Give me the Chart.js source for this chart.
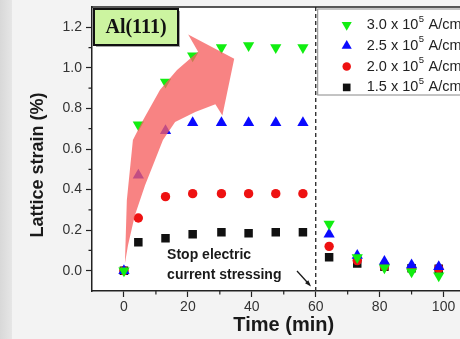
<!DOCTYPE html>
<html><head><meta charset="utf-8">
<script src="https://cdn.jsdelivr.net/npm/chart.js@4.4.0/dist/chart.umd.min.js"></script>
<style>
html,body{margin:0;padding:0;width:460px;height:339px;overflow:hidden;background:#f3f3f3;}
#strip{position:absolute;left:0;top:0;width:12px;height:339px;background:linear-gradient(90deg,#d8d8d8,#e6e6e6);}
canvas{position:absolute;left:0;top:0;}
</style></head><body>
<div id="strip"></div>
<canvas id="c" width="482" height="339"></canvas>
<script>
// ---- data ----
const times      = [0, 4.5, 13, 21.5, 30.5, 39, 47.5, 56, 64.2, 73, 81.5, 90, 98.5];
const strain30   = [0, 0.72, 0.93, 1.06, 1.10, 1.11, 1.10, 1.10, 0.23, 0.065, 0.015, -0.005, -0.025];
const strain25   = [0, 0.47, 0.69, 0.73, 0.73, 0.73, 0.73, 0.73, 0.18, 0.075, 0.045, 0.028, 0.02];
const strain20   = [0, 0.26, 0.365, 0.38, 0.38, 0.38, 0.38, 0.38, 0.12, 0.05, 0.02, 0.01, 0.01];
const strain15   = [0, 0.14, 0.16, 0.18, 0.19, 0.185, 0.19, 0.19, 0.066, 0.035, 0.02, 0.012, 0.01];
const densities  = ['3.0', '2.5', '2.0', '1.5'];
const xTickLabels = [0, 20, 40, 60, 80, 100];
const yTickLabels = [0.0, 0.2, 0.4, 0.6, 0.8, 1.0, 1.2];
const stopTime = 60;
const sampleLabel = 'Al(111)';
const noteLines = ['Stop electric', 'current stressing'];
const xTitle = 'Time (min)';
const yTitle = 'Lattice strain (%)';
// decorative curved arrow outline, in data units (time, strain)
const arrowOutline = [[0.3,0.035],[0.9,0.347],[2.8,0.644],[6.0,0.743],[11.3,0.892],[16.6,0.99],[23.2,1.08],
  [20.1,1.164],[34.5,1.045],[30.8,0.765],[28.6,0.82],
  [22.3,0.783],[16.0,0.733],[12.2,0.644],[9.7,0.545],[6.6,0.421],[3.4,0.272],[1.25,0.124]];

const mk = (arr)=> times.map((t,i)=>({x:t, y:arr[i]}));
const styles = [
  {color:'#11ee11', pointStyle:'triangle', rotation:180, radius:6.5},
  {color:'#0a0aff', pointStyle:'triangle', rotation:0, radius:6.5},
  {color:'#ee1111', pointStyle:'circle', rotation:0, radius:4.7},
  {color:'#111111', pointStyle:'rect', rotation:0, radius:6}
];
const seriesData = [strain30, strain25, strain20, strain15];
const datasets = seriesData.map((arr,i)=>({
  label: densities[i] + ' x 10\u2075 A/cm\u00B2',
  data: mk(arr),
  showLine:false,
  pointStyle: styles[i].pointStyle,
  rotation: styles[i].rotation,
  pointRadius: styles[i].radius,
  pointHoverRadius: styles[i].radius,
  backgroundColor: styles[i].color,
  borderColor: styles[i].color,
  borderWidth: 0
}));

const SANS = '"Liberation Sans", Arial, sans-serif';
const SERIF = '"Liberation Serif", "Times New Roman", serif';

const decor = {
  id:'decor',
  beforeDraw(chart){
    const {ctx, chartArea:a} = chart;
    ctx.save();
    ctx.fillStyle = '#ffffff';
    ctx.fillRect(a.left, a.top, a.right-a.left, a.bottom-a.top);
    ctx.restore();
  },
  afterDatasetsDraw(chart){
    const {ctx, chartArea:a, scales:{x,y}} = chart;
    ctx.save();
    // curved arrow
    ctx.beginPath();
    arrowOutline.forEach((p,i)=>{
      const px = x.getPixelForValue(p[0]), py = y.getPixelForValue(p[1]);
      if(i===0) ctx.moveTo(px,py); else ctx.lineTo(px,py);
    });
    ctx.closePath();
    ctx.fillStyle = 'rgba(246,96,96,0.78)';
    ctx.fill();

    // dashed stop line
    const sx = x.getPixelForValue(stopTime);
    ctx.setLineDash([4,3]);
    ctx.strokeStyle = '#333';
    ctx.lineWidth = 1.4;
    ctx.beginPath(); ctx.moveTo(sx, a.top); ctx.lineTo(sx, a.bottom); ctx.stroke();
    ctx.setLineDash([]);

    // frame top / right
    ctx.strokeStyle = '#222'; ctx.lineWidth = 1.5;
    ctx.beginPath(); ctx.moveTo(a.left, a.top); ctx.lineTo(a.right, a.top); ctx.lineTo(a.right, a.bottom); ctx.stroke();

    // minor ticks
    ctx.lineWidth = 1.2;
    ctx.beginPath();
    for(let v=10; v<110; v+=20){ const px=x.getPixelForValue(v); ctx.moveTo(px,a.bottom); ctx.lineTo(px,a.bottom+3.5); }
    for(let k=1; k<13; k+=2){ const py=y.getPixelForValue(k/10); ctx.moveTo(a.left,py); ctx.lineTo(a.left-3.5,py); }
    ctx.stroke();

    // sample box
    const bx=a.left+2, by=a.top+2, bw=84, bh=36;
    ctx.fillStyle='rgba(0,0,0,0.35)';
    ctx.fillRect(bx+2, by+2, bw, bh);
    ctx.fillStyle='#ccf4a0';
    ctx.fillRect(bx, by, bw, bh);
    ctx.strokeStyle='#111'; ctx.lineWidth=2;
    ctx.strokeRect(bx, by, bw, bh);
    ctx.fillStyle='#111';
    ctx.font='bold 20px '+SERIF;
    ctx.textAlign='center'; ctx.textBaseline='middle';
    ctx.fillText(sampleLabel, bx+bw/2, by+bh/2+1);

    // legend
    const lx = sx+2, ly = a.top+2;
    ctx.strokeStyle='#888'; ctx.lineWidth=1;
    ctx.fillStyle='#fff';
    ctx.fillRect(lx, ly, a.right-lx+20, 86);
    ctx.strokeRect(lx, ly, a.right-lx+20, 86);
    densities.forEach((d,i)=>{
      const cy = ly + 16 + i*20.8;
      const st = styles[i];
      ctx.fillStyle = st.color; ctx.strokeStyle = st.color;
      Chart.helpers.drawPoint(ctx, {pointStyle:st.pointStyle, rotation:st.rotation, radius:st.radius*0.9, borderWidth:0}, lx+29, cy);
      ctx.fillStyle='#222';
      ctx.textAlign='left'; ctx.textBaseline='middle';
      ctx.font='14.5px '+SANS;
      let tx = lx+49;
      const t1 = d+' x 10';
      ctx.fillText(t1, tx, cy); tx += ctx.measureText(t1).width;
      ctx.font='9.5px '+SANS;
      ctx.fillText('5', tx+0.5, cy-6); tx += ctx.measureText('5').width+1;
      ctx.font='14.5px '+SANS;
      const t2 = ' A/cm';
      ctx.fillText(t2, tx, cy); tx += ctx.measureText(t2).width;
      ctx.font='9.5px '+SANS;
      ctx.fillText('2', tx+0.5, cy-6);
    });

    // note
    ctx.fillStyle='#1a1a1a';
    ctx.font='bold 14px '+SANS;
    ctx.textAlign='left'; ctx.textBaseline='middle';
    const nx = x.getPixelForValue(13.5);
    ctx.fillText(noteLines[0], nx, 255);
    ctx.fillText(noteLines[1], nx, 275);
    // small pointer arrow
    const ax0 = 297, ay0 = 271, ax1 = sx-6, ay1 = a.bottom-6;
    ctx.strokeStyle='#1a1a1a'; ctx.lineWidth=1.3;
    ctx.beginPath(); ctx.moveTo(ax0,ay0); ctx.lineTo(ax1,ay1); ctx.stroke();
    const ang = Math.atan2(ay1-ay0, ax1-ax0);
    ctx.beginPath();
    ctx.moveTo(ax1+2*Math.cos(ang), ay1+2*Math.sin(ang));
    ctx.lineTo(ax1-5*Math.cos(ang-0.45), ay1-5*Math.sin(ang-0.45));
    ctx.lineTo(ax1-5*Math.cos(ang+0.45), ay1-5*Math.sin(ang+0.45));
    ctx.closePath(); ctx.fillStyle='#1a1a1a'; ctx.fill();

    ctx.restore();
  },
  afterDraw(chart){
    const {ctx} = chart;
    ctx.save();
    ctx.fillStyle='#1a1a1a';
    ctx.font='bold 18px '+SANS;
    ctx.textAlign='center'; ctx.textBaseline='middle';
    ctx.translate(38, 165);
    ctx.rotate(-Math.PI/2);
    ctx.fillText(yTitle, 0, 0);
    ctx.restore();
  }
};

new Chart(document.getElementById('c'), {
  type:'scatter',
  data:{datasets},
  plugins:[decor],
  options:{
    responsive:false,
    devicePixelRatio:1,
    animation:false,
    events:[],
    layout:{padding:{top:7, right:5, left:0, bottom:0}},
    plugins:{legend:{display:false}, tooltip:{enabled:false}},
    scales:{
      x:{
        type:'linear', min:-10, max:110,
        afterFit(s){ s.height = 48; s.paddingLeft = 0; s.paddingRight = 0; },
        afterBuildTicks(s){ s.ticks = xTickLabels.map(v=>({value:v})); },
        ticks:{ color:'#333', font:{family:SANS, size:14}, padding:2, maxRotation:0, autoSkip:false },
        grid:{ drawOnChartArea:false, drawTicks:true, tickLength:6, tickColor:'#222', tickWidth:1.2 },
        border:{ color:'#222', width:1.5 },
        title:{ display:true, text:xTitle, color:'#1a1a1a', font:{family:SANS, size:20, weight:'bold'}, padding:{top:0, bottom:2} }
      },
      y:{
        type:'linear', min:-0.1, max:1.3,
        afterFit(s){ s.width = 92; s.paddingTop = 0; s.paddingBottom = 0; },
        afterBuildTicks(s){ s.ticks = yTickLabels.map(v=>({value:v})); },
        ticks:{ color:'#333', font:{family:SANS, size:14}, padding:4, callback:(v)=>Number(v).toFixed(1) },
        grid:{ drawOnChartArea:false, drawTicks:true, tickLength:6, tickColor:'#222', tickWidth:1.2 },
        border:{ color:'#222', width:1.5 }
      }
    }
  }
});
</script>
</body></html>
